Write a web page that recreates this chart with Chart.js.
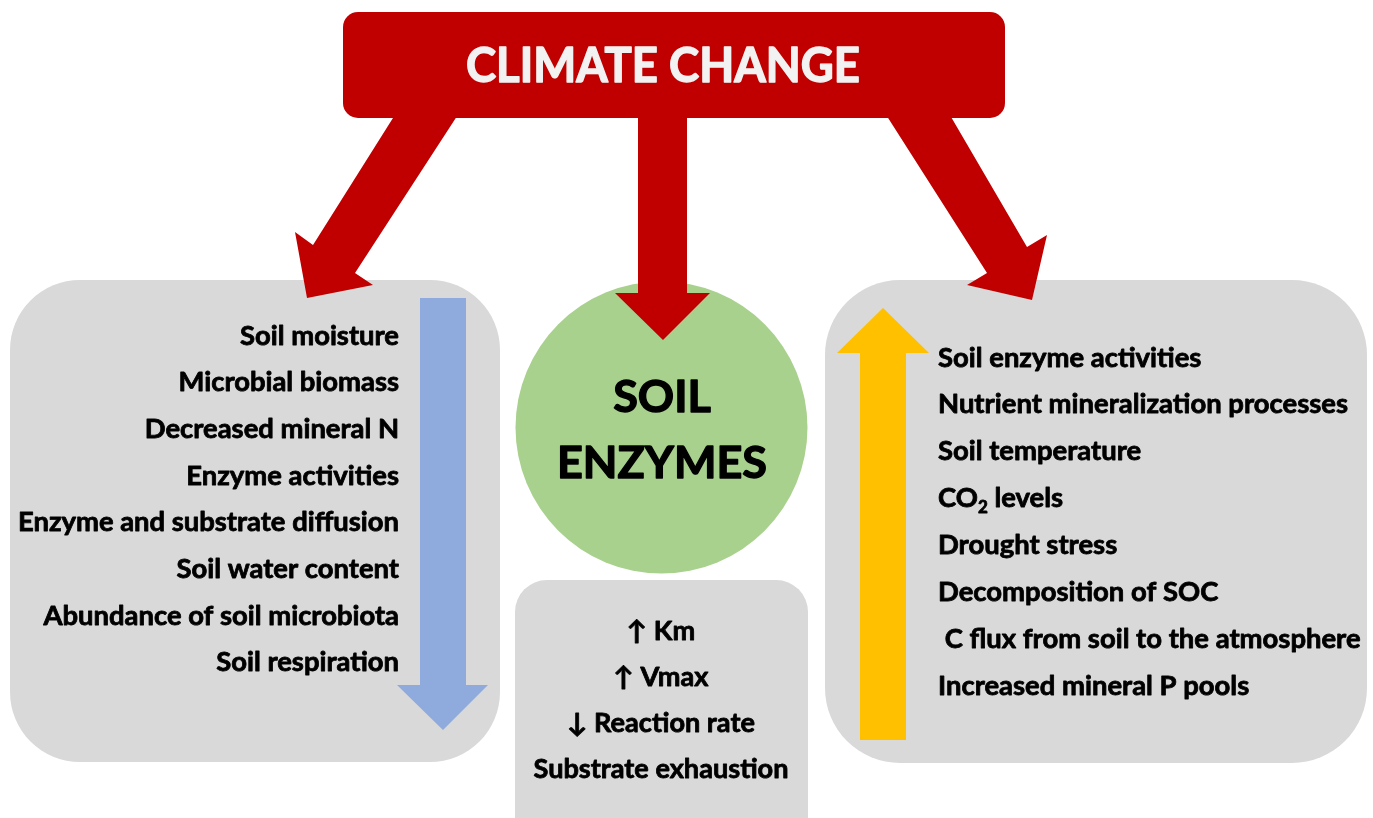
<!DOCTYPE html>
<html>
<head>
<meta charset="utf-8">
<script src="https://cdn.jsdelivr.net/npm/chart.js@4.4.1/dist/chart.umd.min.js"></script>
<style>
  html, body { margin: 0; padding: 0; background: #fff; }
</style>
</head>
<body>
<canvas id="diagram" width="1373" height="818"></canvas>
<script>
// texts of the diagram
const titleText = 'CLIMATE CHANGE';
const centerText = ['SOIL', 'ENZYMES'];
const decreasedItems = [
  'Soil moisture',
  'Microbial biomass',
  'Decreased mineral N',
  'Enzyme activities',
  'Enzyme and substrate diffusion',
  'Soil water content',
  'Abundance of soil microbiota',
  'Soil respiration',
];
const increasedItems = [
  'Soil enzyme activities',
  'Nutrient mineralization processes',
  'Soil temperature',
  'CO₂ levels',
  'Drought stress',
  'Decomposition of SOC',
  ' C flux from soil to the atmosphere',
  'Increased mineral P pools',
];
const kineticItems = ['↑ Km', '↑ Vmax', '↓ Reaction rate', 'Substrate exhaustion'];

const RED = '#C00000';
const GREY = '#D9D9D9';
const GREEN = '#A9D18E';
const BLUE = '#8FAADC';
const YELLOW = '#FFC000';
const FONT = 'Lato, "Open Sans", "DejaVu Sans", sans-serif';

// layout, in the 1373 x 818 units of the hidden x / y scales
const layout = {
  leftBox: { x0: 10, y0: 280, x1: 500, y1: 762, r: 70 },
  rightBox: { x0: 825, y0: 280, x1: 1367, y1: 763, r: 75 },
  bottomBox: { x0: 515, y0: 580, x1: 808, y1: 860, r: 32 },
  circle: { cx: 661.5, cy: 427.5, r: 146 },
  titleBox: { x0: 343, y0: 12, x1: 1005, y1: 118, r: 15 },
  blueArrow: [[420, 298], [466, 298], [466, 685], [488, 685], [443, 730], [397, 685], [420, 685]],
  yellowArrow: [[860, 740], [906, 740], [906, 353], [929, 353], [883, 308], [837, 353], [860, 353]],
  redArrows: [
    [[398, 110], [461, 110], [355, 273], [373, 285], [307, 298], [295, 232], [313, 245]],
    [[883, 110], [947, 110], [1027, 247], [1047, 235], [1032, 300], [967, 285], [987, 273]],
    [[638, 110], [687, 110], [687, 293], [710, 293], [663, 340], [615, 293], [638, 293]],
  ],
  title: { x: 663, y: 65, cap: 34, width: 394 },
  center: { x: 662, y: [396, 462], cap: 32, width: 210 },
  left: { x: 399, y0: 335, step: 46.7, cap: 19, width: 381, ref: 'Enzyme and substrate diffusion' },
  right: { x: 938, y0: 357, step: 46.9, cap: 19, width: 410, ref: 'Nutrient mineralization processes' },
  bottom: { x: 661, y0: 630, step: 46.3, cap: 19, width: 255, ref: 'Substrate exhaustion' },
};

const CAP_RATIO = 0.72;

function roundRect(ctx, x0, y0, x1, y1, r) {
  ctx.beginPath();
  ctx.moveTo(x0 + r, y0);
  ctx.lineTo(x1 - r, y0);
  ctx.arcTo(x1, y0, x1, y0 + r, r);
  ctx.lineTo(x1, y1 - r);
  ctx.arcTo(x1, y1, x1 - r, y1, r);
  ctx.lineTo(x0 + r, y1);
  ctx.arcTo(x0, y1, x0, y1 - r, r);
  ctx.lineTo(x0, y0 + r);
  ctx.arcTo(x0, y0, x0 + r, y0, r);
  ctx.closePath();
}

// fill plus a thin stroke, to get closer to the heavy bold of the original
function ink(ctx, s, x, y) {
  ctx.fillText(s, x, y);
  ctx.strokeText(s, x, y);
}

// draw one line, squeezed horizontally by sx; handles the CO₂ subscript
function drawText(ctx, text, x, y, size, sx, align, color) {
  ctx.save();
  ctx.translate(x, y);
  ctx.scale(sx, 1);
  ctx.fillStyle = color;
  ctx.strokeStyle = color;
  ctx.lineWidth = size * 0.03;
  ctx.lineJoin = 'round';
  ctx.textBaseline = 'alphabetic';
  ctx.font = `bold ${size}px ${FONT}`;
  if (text.includes('₂')) {
    const [a, b] = text.split('₂');
    ctx.textAlign = 'left';
    ink(ctx, a, 0, 0);
    let w = ctx.measureText(a).width;
    ctx.font = `bold ${size * 0.62}px ${FONT}`;
    ink(ctx, '2', w, size * 0.22);
    w += ctx.measureText('2').width;
    ctx.font = `bold ${size}px ${FONT}`;
    ink(ctx, b, w, 0);
  } else {
    ctx.textAlign = align;
    ink(ctx, text, 0, 0);
  }
  ctx.restore();
}

function fitScale(ctx, ref, size, width) {
  ctx.font = `bold ${size}px ${FONT}`;
  return width / ctx.measureText(ref).width;
}

const diagramPlugin = {
  id: 'diagram',
  beforeDatasetsDraw(chart) {
    const { ctx, scales: { x, y } } = chart;
    const px = v => x.getPixelForValue(v);
    const py = v => y.getPixelForValue(v);

    const box = (b, color) => {
      roundRect(ctx, px(b.x0), py(b.y0), px(b.x1), py(b.y1), b.r);
      ctx.fillStyle = color;
      ctx.fill();
    };
    const poly = (pts, color) => {
      ctx.beginPath();
      pts.forEach(([a, b], i) => (i ? ctx.lineTo(px(a), py(b)) : ctx.moveTo(px(a), py(b))));
      ctx.closePath();
      ctx.fillStyle = color;
      ctx.fill();
    };

    ctx.save();
    box(layout.leftBox, GREY);
    box(layout.rightBox, GREY);
    box(layout.bottomBox, GREY);

    const c = layout.circle;
    ctx.beginPath();
    ctx.arc(px(c.cx), py(c.cy), c.r, 0, Math.PI * 2);
    ctx.fillStyle = GREEN;
    ctx.fill();

    poly(layout.blueArrow, BLUE);
    poly(layout.yellowArrow, YELLOW);
    layout.redArrows.forEach(a => poly(a, RED));
    box(layout.titleBox, RED);

    // title
    const t = layout.title;
    let size = t.cap / CAP_RATIO;
    drawText(ctx, titleText, px(t.x), py(t.y + t.cap / 2), size, fitScale(ctx, titleText, size, t.width), 'center', '#F2F2F2');

    // circle label
    const ce = layout.center;
    size = ce.cap / CAP_RATIO;
    let sx = fitScale(ctx, centerText[1], size, ce.width);
    centerText.forEach((s, i) => drawText(ctx, s, px(ce.x), py(ce.y[i] + ce.cap / 2), size, sx, 'center', '#000'));

    // the three lists
    const lists = [
      [decreasedItems, layout.left, 'right'],
      [increasedItems, layout.right, 'left'],
      [kineticItems, layout.bottom, 'center'],
    ];
    lists.forEach(([items, g, align]) => {
      const sz = g.cap / CAP_RATIO;
      const k = fitScale(ctx, g.ref, sz, g.width);
      items.forEach((s, i) => drawText(ctx, s, px(g.x), py(g.y0 + i * g.step + g.cap / 2), sz, k, align, '#000'));
    });
    ctx.restore();
  },
};

new Chart(document.getElementById('diagram'), {
  type: 'scatter',
  data: { datasets: [{ data: [] }] },
  options: {
    responsive: false,
    animation: false,
    layout: { padding: 0 },
    plugins: { legend: { display: false }, tooltip: { enabled: false } },
    scales: {
      x: { type: 'linear', min: 0, max: 1373, display: false },
      y: { type: 'linear', min: 0, max: 818, reverse: true, display: false },
    },
  },
  plugins: [diagramPlugin],
});
</script>
</body>
</html>
